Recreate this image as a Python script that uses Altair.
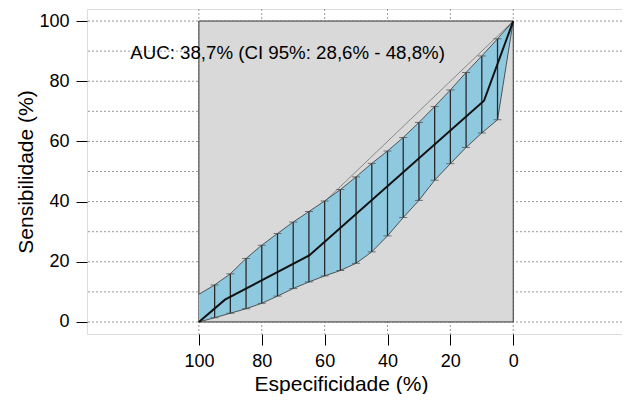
import altair as alt
import pandas as pd

# ---- data ----
ci_spec = [100, 95, 90, 85, 80, 75, 70, 65, 60, 55, 50, 45, 40, 35, 30, 25, 20, 15, 10, 5, 0]
ci_upper = [9.2, 12.3, 16.0, 21.1, 25.5, 29.4, 33.2, 36.7, 40.2, 44.0, 48.2, 52.7, 56.8, 61.3, 66.3, 71.6, 77.1, 82.9, 88.4, 94.1, 100]
ci_lower = [0, 1.4, 2.9, 4.4, 6.2, 8.6, 11.1, 13.3, 15.3, 17.1, 19.5, 23.3, 28.6, 34.7, 40.4, 47.1, 52.6, 58.0, 62.8, 67.2, 100]

roc_spec = [100, 91.7, 64.9, 9.3, 0]
roc_sens = [0, 7.4, 22.1, 73.5, 100]

diag_spec = [100, 0]
diag_sens = [0, 100]

grid_y = [0, 10, 20, 30, 40, 50, 60, 70, 80, 90, 100]
grid_x = [0, 20, 40, 60, 80, 100]
tick_vals = [0, 20, 40, 60, 80, 100]

auc_label = "AUC: 38,7% (CI 95%: 28,6% - 48,8%)"

FONT = "Liberation Sans"

band = pd.DataFrame({"spec": ci_spec, "upper": ci_upper, "lower": ci_lower})
bars = band.iloc[1:-1]
roc = pd.DataFrame({"spec": roc_spec, "sens": roc_sens})
diag = pd.DataFrame({"spec": diag_spec, "sens": diag_sens})
gy = pd.DataFrame({"y": grid_y})
gx = pd.DataFrame({"x": grid_x})
square = pd.DataFrame({"x": [100], "x2": [0], "y": [0], "y2": [100]})
txt = pd.DataFrame({"x": [71.8], "y": [87.4], "t": [auc_label]})

xscale = alt.Scale(domain=[-34.6, 135.6], reverse=True, nice=False, zero=False)
yscale = alt.Scale(domain=[-4, 104], nice=False, zero=False)

xaxis = alt.Axis(values=tick_vals, title="Especificidade (%)", grid=False, domain=False,
                 tickSize=11, tickColor="#000", labelPadding=21.5, labelBaseline="alphabetic",
                 labelFontSize=18, labelFont=FONT, labelColor="#000",
                 titleFont=FONT, titleFontSize=21, titleFontWeight="normal", titleColor="#000",
                 titleX=254, titleY=56, titleBaseline="alphabetic", titleAlign="center",
                 labelFlush=False, labelOverlap=False)
yaxis = alt.Axis(values=tick_vals, title="Sensibilidade (%)", grid=False, domain=False,
                 tickSize=11, tickColor="#000", labelPadding=7, labelFontSize=18,
                 labelFont=FONT, labelColor="#000", titleFont=FONT, titleFontSize=21,
                 titleFontWeight="normal", titleColor="#000",
                 titleX=-54.5, titleY=162.5, titleAngle=270, titleBaseline="alphabetic",
                 titleAlign="center", labelFlush=False, labelOverlap=False)

grid_h = alt.Chart(gy).mark_rule(color="#999", strokeDash=[2, 2], strokeWidth=1).encode(
    y=alt.Y("y:Q", scale=yscale, axis=yaxis)
)
grid_v = alt.Chart(gx).mark_rule(color="#999", strokeDash=[2, 2], strokeWidth=1).encode(
    x=alt.X("x:Q", scale=xscale, axis=xaxis)
)
sq = alt.Chart(square).mark_rect(fill="#D9D9D9", stroke="#333", strokeWidth=1).encode(
    x=alt.X("x:Q", scale=xscale), x2="x2:Q",
    y=alt.Y("y:Q", scale=yscale), y2="y2:Q"
)
area = alt.Chart(band).mark_area(color="#8FC9E0", opacity=1).encode(
    x=alt.X("spec:Q", scale=xscale),
    y=alt.Y("lower:Q", scale=yscale), y2="upper:Q"
)
up_line = alt.Chart(band).mark_line(color="#333", strokeWidth=0.8).encode(
    x=alt.X("spec:Q", scale=xscale), y=alt.Y("upper:Q", scale=yscale)
)
lo_line = alt.Chart(band).mark_line(color="#333", strokeWidth=0.8).encode(
    x=alt.X("spec:Q", scale=xscale), y=alt.Y("lower:Q", scale=yscale)
)
diag_line = alt.Chart(diag).mark_line(color="#888", strokeWidth=1).encode(
    x=alt.X("spec:Q", scale=xscale), y=alt.Y("sens:Q", scale=yscale)
)
err = alt.Chart(bars).mark_rule(color="#2a2a2a", strokeWidth=1.3).encode(
    x=alt.X("spec:Q", scale=xscale),
    y=alt.Y("lower:Q", scale=yscale), y2="upper:Q"
)
cap_up = alt.Chart(bars).mark_tick(color="#444", orient="horizontal", size=8, thickness=1).encode(
    x=alt.X("spec:Q", scale=xscale), y=alt.Y("upper:Q", scale=yscale)
)
cap_lo = alt.Chart(bars).mark_tick(color="#444", orient="horizontal", size=8, thickness=1).encode(
    x=alt.X("spec:Q", scale=xscale), y=alt.Y("lower:Q", scale=yscale)
)
roc_line = alt.Chart(roc).mark_line(color="#111", strokeWidth=2).encode(
    x=alt.X("spec:Q", scale=xscale), y=alt.Y("sens:Q", scale=yscale)
)
label = alt.Chart(txt).mark_text(font=FONT, fontSize=18.7, color="#000", align="center",
                                 baseline="alphabetic").encode(
    x=alt.X("x:Q", scale=xscale), y=alt.Y("y:Q", scale=yscale), text="t:N"
)

chart = alt.layer(
    grid_h, grid_v, sq, diag_line, area, up_line, lo_line, err, cap_up, cap_lo, roc_line, label
).properties(
    width=535, height=325,
    autosize=alt.AutoSizeParams(type="none"),
    padding={"left": 79, "top": 1, "right": 0, "bottom": 60},
).configure_view(stroke="#444", strokeWidth=1).configure(background="white")

chart.save("out.html", embed_options={"renderer": "svg", "actions": False})
